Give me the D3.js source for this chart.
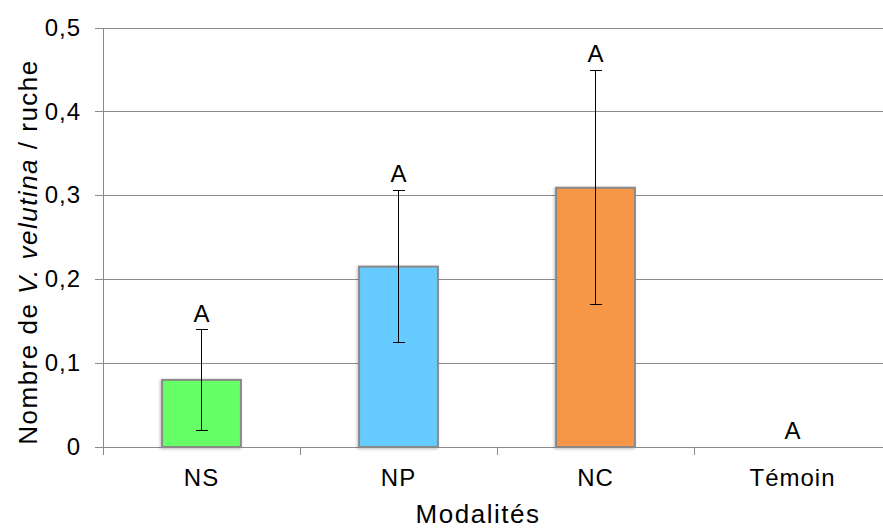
<!DOCTYPE html>
<html>
<head>
<meta charset="utf-8">
<script src="https://cdn.jsdelivr.net/npm/d3@7"></script>
<style>
  html, body { margin: 0; padding: 0; background: #fff; }
  svg { display: block; font-family: "Liberation Sans", Arial, sans-serif; }
</style>
</head>
<body>
<svg id="chart" width="883" height="530"></svg>
<script>
// Mean number of V. velutina per hive, by treatment
const categories = ["NS", "NP", "NC", "Témoin"];
const means      = [0.08, 0.215, 0.309, 0];
const errLow     = [0.02, 0.125, 0.17, null];
const errHigh    = [0.14, 0.306, 0.449, null];
const groupLetters = ["A", "A", "A", "A"];
const barColors  = ["#66ff66", "#66ccff", "#f79646", "#ffffff"];
const yTicks     = [0, 0.1, 0.2, 0.3, 0.4, 0.5];

const svg = d3.select("#chart");
const plotLeft = 103, plotRight = 891, plotTop = 27.5, plotBottom = 447;

const x = d3.scaleBand()
  .domain(categories)
  .range([plotLeft, plotRight])
  .paddingInner(0.6)
  .paddingOuter(0.3);

const y = d3.scaleLinear().domain([0, 0.5]).range([plotBottom, plotTop]);

const axisColor = "#8a8a8a";
const labelSize = "24px", titleSize = "26px";

// soft shadow under the bars
const defs = svg.append("defs");
const f = defs.append("filter").attr("id", "shadow")
  .attr("x", "-20%").attr("y", "-20%").attr("width", "140%").attr("height", "140%");
f.append("feDropShadow").attr("dx", -1).attr("dy", 1).attr("stdDeviation", 1.5)
  .attr("flood-color", "#000").attr("flood-opacity", 0.25);

// horizontal gridlines with tick marks on the left
const yAxis = d3.axisLeft(y)
  .tickValues(yTicks)
  .tickSize(plotRight - plotLeft + 8)
  .tickFormat(d => d === 0 ? "0" : d3.format(".1f")(d).replace(".", ","))
  .tickPadding(14);

const gy = svg.append("g")
  .attr("transform", `translate(${plotRight},0)`)
  .call(yAxis);
gy.select(".domain").remove();
gy.selectAll(".tick line").attr("stroke", axisColor).attr("stroke-width", 1)
  .attr("shape-rendering", "crispEdges");
gy.selectAll(".tick text")
  .attr("fill", "#000")
  .style("font-size", labelSize)
  .style("letter-spacing", "1px");

// vertical axis line
svg.append("line")
  .attr("x1", plotLeft).attr("x2", plotLeft)
  .attr("y1", y(0.5)).attr("y2", plotBottom + 8)
  .attr("stroke", axisColor).attr("stroke-width", 1)
  .attr("shape-rendering", "crispEdges");

// category tick marks at the band boundaries
const step = x.step();
const boundaries = categories.map((c, i) => plotLeft + i * step).slice(1);
svg.append("g").selectAll("line")
  .data(boundaries)
  .join("line")
  .attr("x1", d => d).attr("x2", d => d)
  .attr("y1", plotBottom).attr("y2", plotBottom + 8)
  .attr("stroke", axisColor).attr("stroke-width", 1)
  .attr("shape-rendering", "crispEdges");

// category labels
const xAxis = d3.axisBottom(x).tickSize(0).tickPadding(22);
const gx = svg.append("g").attr("transform", `translate(0,${plotBottom})`).call(xAxis);
gx.select(".domain").remove();
gx.selectAll(".tick text").attr("fill", "#000")
  .style("font-size", labelSize)
  .style("letter-spacing", "1px");

// bars
const data = categories.map((c, i) => ({
  cat: c, mean: means[i], lo: errLow[i], hi: errHigh[i],
  letter: groupLetters[i], color: barColors[i]
}));

svg.append("g").selectAll("rect")
  .data(data.filter(d => d.mean > 0))
  .join("rect")
  .attr("x", d => x(d.cat))
  .attr("y", d => y(d.mean))
  .attr("width", x.bandwidth())
  .attr("height", d => y(0) - y(d.mean))
  .attr("fill", d => d.color)
  .attr("stroke", "#898989")
  .attr("stroke-width", 2)
  .attr("filter", "url(#shadow)");

// error bars
const cap = 6;
const eb = svg.append("g").selectAll("g")
  .data(data.filter(d => d.lo !== null))
  .join("g")
  .attr("stroke", "#000").attr("stroke-width", 1)
  .attr("shape-rendering", "crispEdges");
eb.append("line")
  .attr("x1", d => x(d.cat) + x.bandwidth() / 2)
  .attr("x2", d => x(d.cat) + x.bandwidth() / 2)
  .attr("y1", d => y(d.lo)).attr("y2", d => y(d.hi));
eb.append("line")
  .attr("x1", d => x(d.cat) + x.bandwidth() / 2 - cap)
  .attr("x2", d => x(d.cat) + x.bandwidth() / 2 + cap)
  .attr("y1", d => y(d.hi)).attr("y2", d => y(d.hi));
eb.append("line")
  .attr("x1", d => x(d.cat) + x.bandwidth() / 2 - cap)
  .attr("x2", d => x(d.cat) + x.bandwidth() / 2 + cap)
  .attr("y1", d => y(d.lo)).attr("y2", d => y(d.lo));

// significance letters above each group
svg.append("g").selectAll("text")
  .data(data)
  .join("text")
  .attr("x", d => x(d.cat) + x.bandwidth() / 2)
  .attr("y", d => y(d.hi !== null ? d.hi : d.mean) - 8)
  .attr("text-anchor", "middle")
  .style("font-size", labelSize)
  .text(d => d.letter);

// axis titles
svg.append("text")
  .attr("x", 478)
  .attr("y", 523)
  .attr("text-anchor", "middle")
  .style("font-size", titleSize)
  .style("letter-spacing", "1.5px")
  .text("Modalités");

const yt = svg.append("text")
  .attr("transform", `translate(37,252) rotate(-90)`)
  .attr("text-anchor", "middle")
  .style("font-size", titleSize)
  .style("letter-spacing", "1.5px");
yt.append("tspan").text("Nombre de ");
yt.append("tspan").style("font-style", "italic").text("V. velutina");
yt.append("tspan").text(" / ruche");
</script>
</body>
</html>
